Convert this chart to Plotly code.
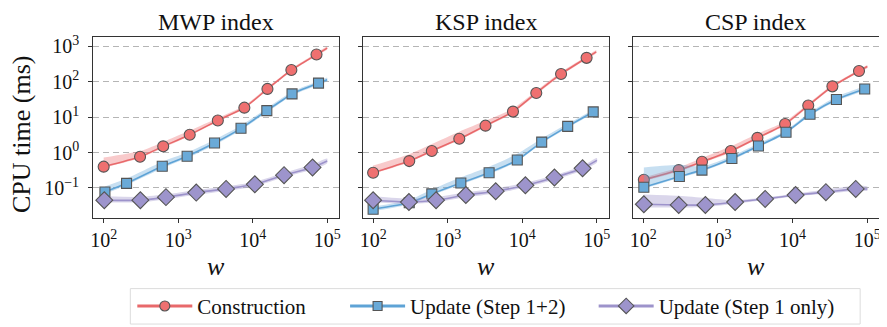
import plotly.graph_objects as go

# ---------------- data ----------------
panels = ["MWP index", "KSP index", "CSP index"]
series_names = ["Construction", "Update (Step 1+2)", "Update (Step 1 only)"]

# MWP index
mwp_con_w = [100, 308, 630, 1430, 3410, 7740, 15800, 33100, 72000, 100000]
mwp_con_t = [0.40, 0.76, 1.5, 3.2, 8.1, 18.6, 63, 215, 590, 900]
mwp_con_hi = [0.72, 1.1, 2.0, 4.2, 9.5, 21, 70, 235, 650, 1000]
mwp_con_lo = [0.37, 0.7, 1.38, 2.95, 7.5, 17.3, 58, 200, 550, 820]

mwp_upd_w = [104, 203, 612, 1320, 3080, 6980, 15500, 33800, 76600, 100000]
mwp_upd_t = [0.077, 0.135, 0.41, 0.79, 1.86, 4.85, 15.3, 45.5, 92, 115]
mwp_upd_hi = [0.11, 0.185, 0.55, 1.0, 2.3, 5.8, 18, 52, 105, 130]
mwp_upd_lo = [0.068, 0.12, 0.36, 0.7, 1.65, 4.3, 13.5, 41, 83, 104]

mwp_s1_w = [102, 311, 686, 1750, 4400, 10700, 26400, 63700, 100000]
mwp_s1_t = [0.045, 0.045, 0.055, 0.074, 0.094, 0.127, 0.23, 0.38, 0.58]
mwp_s1_hi = [0.058, 0.056, 0.066, 0.088, 0.11, 0.15, 0.27, 0.46, 0.68]
mwp_s1_lo = [0.039, 0.039, 0.048, 0.064, 0.082, 0.11, 0.2, 0.33, 0.5]

# KSP index
ksp_con_w = [100, 305, 612, 1430, 3210, 7500, 15400, 33100, 72800, 98000]
ksp_con_t = [0.27, 0.575, 1.11, 2.45, 5.77, 14.4, 48.5, 167, 476, 700]
ksp_con_hi = [0.43, 0.9, 1.75, 3.9, 7.9, 17.5, 56, 190, 530, 780]
ksp_con_lo = [0.25, 0.53, 1.02, 2.25, 5.3, 13.2, 44, 152, 435, 640]

ksp_upd_w = [100, 305, 612, 1500, 3590, 8570, 18200, 40600, 89300, 100000]
ksp_upd_t = [0.025, 0.038, 0.068, 0.138, 0.27, 0.615, 1.98, 5.5, 14.1, 16]
ksp_upd_hi = [0.03, 0.046, 0.09, 0.2, 0.4, 0.92, 2.5, 6.5, 16, 18]
ksp_upd_lo = [0.022, 0.034, 0.062, 0.125, 0.245, 0.56, 1.8, 5.0, 12.8, 14.5]

ksp_s1_w = [100, 302, 698, 1750, 4400, 11000, 27000, 64300, 100000]
ksp_s1_t = [0.045, 0.040, 0.045, 0.063, 0.081, 0.119, 0.198, 0.36, 0.6]
ksp_s1_hi = [0.058, 0.05, 0.055, 0.075, 0.097, 0.14, 0.23, 0.42, 0.7]
ksp_s1_lo = [0.04, 0.035, 0.04, 0.055, 0.07, 0.103, 0.17, 0.31, 0.52]

# CSP index
csp_con_w = [102, 299, 612, 1490, 3380, 7930, 16200, 34100, 77400, 100000]
csp_con_t = [0.17, 0.32, 0.55, 1.11, 2.61, 6.4, 21.5, 74.5, 202, 270]
csp_con_hi = [0.2, 0.38, 0.7, 1.5, 3.4, 7.6, 24, 82, 220, 295]
csp_con_lo = [0.155, 0.29, 0.5, 1.0, 2.4, 5.8, 19.5, 68, 185, 245]

csp_upd_w = [102, 305, 612, 1540, 3490, 8170, 17100, 38600, 92300, 100000]
csp_upd_t = [0.105, 0.21, 0.32, 0.68, 1.53, 3.76, 12.1, 31.6, 62.7, 66]
csp_upd_hi = [0.38, 0.45, 0.4, 0.8, 1.8, 4.3, 14, 38, 75, 78]
csp_upd_lo = [0.095, 0.19, 0.29, 0.62, 1.4, 3.4, 11, 28.5, 56, 59]

csp_s1_w = [102, 299, 680, 1700, 4290, 10960, 27900, 70000, 100000]
csp_s1_t = [0.0346, 0.033, 0.033, 0.040, 0.049, 0.063, 0.076, 0.094, 0.093]
csp_s1_hi = [0.065, 0.06, 0.052, 0.045, 0.054, 0.069, 0.09, 0.115, 0.11]
csp_s1_lo = [0.028, 0.028, 0.029, 0.036, 0.045, 0.058, 0.068, 0.084, 0.084]

x_tickvals = [100, 1000, 10000, 100000]
x_ticktext = ["10<sup>2</sup>", "10<sup>3</sup>", "10<sup>4</sup>", "10<sup>5</sup>"]
y_tickvals = [0.1, 1, 10, 100, 1000]
y_ticktext = ["10<sup>−1</sup>", "10<sup>0</sup>", "10<sup>1</sup>", "10<sup>2</sup>", "10<sup>3</sup>"]

data = [
    [(mwp_con_w, mwp_con_t, mwp_con_lo, mwp_con_hi),
     (mwp_upd_w, mwp_upd_t, mwp_upd_lo, mwp_upd_hi),
     (mwp_s1_w, mwp_s1_t, mwp_s1_lo, mwp_s1_hi)],
    [(ksp_con_w, ksp_con_t, ksp_con_lo, ksp_con_hi),
     (ksp_upd_w, ksp_upd_t, ksp_upd_lo, ksp_upd_hi),
     (ksp_s1_w, ksp_s1_t, ksp_s1_lo, ksp_s1_hi)],
    [(csp_con_w, csp_con_t, csp_con_lo, csp_con_hi),
     (csp_upd_w, csp_upd_t, csp_upd_lo, csp_upd_hi),
     (csp_s1_w, csp_s1_t, csp_s1_lo, csp_s1_hi)],
]

# ---------------- style ----------------
FONT = "Liberation Serif"
line_cols = ["#e8696b", "#5ea3d6", "#9d93cb"]
band_cols = ["rgba(236,104,106,0.35)", "rgba(94,163,214,0.35)", "rgba(157,147,203,0.38)"]
fill_cols = ["#ef7070", "#6aaad8", "#9d94cc"]
symbols = ["circle", "square", "diamond"]
sizes = [11, 10, 13]

OFF = 8  # page body margin
W, H = 887 - OFF, 327 - OFF


def px(x):
    return (x - OFF) / W


def py(y):
    return 1 - (y - OFF) / H


x_dom_px = [(90.7, 337.7), (361.7, 609.0), (633.3, 881.0)]
y_top_px, y_bot_px = 33.3, 217.3

fig = go.Figure()

for p in range(3):
    xa = "x" if p == 0 else f"x{p+1}"
    ya = "y" if p == 0 else f"y{p+1}"
    for s in range(3):
        w, t, lo, hi = data[p][s]
        fig.add_trace(go.Scatter(
            x=list(w) + list(w)[::-1], y=list(hi) + list(lo)[::-1],
            fill="toself", fillcolor=band_cols[s], line=dict(width=0, shape="spline", smoothing=0.6),
            mode="lines", hoverinfo="skip", showlegend=False, xaxis=xa, yaxis=ya))
        fig.add_trace(go.Scatter(
            x=w, y=t, mode="lines", line=dict(color=line_cols[s], width=1.6, shape="spline", smoothing=0.6),
            showlegend=False, xaxis=xa, yaxis=ya))
        fig.add_trace(go.Scatter(
            x=w[:-1], y=t[:-1], mode="markers",
            marker=dict(symbol=symbols[s], size=sizes[s], color=fill_cols[s],
                        line=dict(color="#555555", width=1.1)),
            showlegend=False, xaxis=xa, yaxis=ya))

# legend entries (one legend per entry, placed like the reference)
legend_keys = ["legend", "legend2", "legend3"]
legend_x_px = [130, 344, 594]
for s in range(3):
    fig.add_trace(go.Scatter(
        x=[None], y=[None], mode="lines+markers", name=series_names[s],
        line=dict(color=line_cols[s], width=3),
        marker=dict(symbol=symbols[s], size=sizes[s] - 1, color=fill_cols[s],
                    line=dict(color="#555555", width=1.1)),
        showlegend=True, legend=legend_keys[s]))

axis_common = dict(showline=True, mirror=True, linecolor="#333333", linewidth=1.2,
                   ticks="outside", ticklen=4, tickcolor="#333333", tickwidth=1,
                   zeroline=False)

layout = dict(
    width=W, height=H, margin=dict(l=0, r=0, t=0, b=0),
    paper_bgcolor="white", plot_bgcolor="white",
    annotations=[], shapes=[],
)
for s in range(3):
    layout[legend_keys[s]] = dict(orientation="h", x=px(legend_x_px[s]), xanchor="left",
                                  y=py(307), yanchor="middle", borderwidth=0,
                                  bgcolor="rgba(0,0,0,0)",
                                  font=dict(size=21, family=FONT, color="#111111"),
                                  itemwidth=55)

# legend frame
lx0, lx1, ly0, ly1 = px(128), px(862), py(289), py(325)
layout["shapes"].append(dict(type="rect", xref="paper", yref="paper", x0=lx0, x1=lx1, y0=ly1, y1=ly0,
                             line=dict(color="#dcdcdc", width=1), fillcolor="rgba(0,0,0,0)", layer="below"))

for p in range(3):
    xk = "xaxis" if p == 0 else f"xaxis{p+1}"
    yk = "yaxis" if p == 0 else f"yaxis{p+1}"
    xa = "x" if p == 0 else f"x{p+1}"
    ya = "y" if p == 0 else f"y{p+1}"
    x0, x1 = x_dom_px[p]
    layout[xk] = dict(axis_common, type="log", domain=[px(x0), px(x1)], range=[1.86, 5.157],
                      anchor=ya, tickmode="array", tickvals=x_tickvals, ticktext=x_ticktext,
                      showgrid=False, tickfont=dict(size=20, family=FONT, color="#111111"))
    layout[yk] = dict(axis_common, type="log", domain=[py(y_bot_px), py(y_top_px)],
                      range=[-1.85, 3.27], anchor=xa, tickmode="array", tickvals=y_tickvals,
                      ticktext=y_ticktext if p == 0 else [""] * 5, ticklabelstandoff=5,
                      showgrid=True, gridcolor="#b5b5b5", gridwidth=1, griddash="6px,4px",
                      tickfont=dict(size=20, family=FONT, color="#111111"))
    cx = px((x0 + x1) / 2)
    layout["annotations"].append(dict(text=panels[p], x=cx, y=py(18), xref="paper", yref="paper",
                                      showarrow=False, font=dict(size=24, family=FONT, color="#111111"),
                                      xanchor="center", yanchor="middle"))
    layout["annotations"].append(dict(text="<i>w</i>", x=cx, y=py(267), xref="paper", yref="paper",
                                      showarrow=False, font=dict(size=26, family=FONT, color="#111111"),
                                      xanchor="center", yanchor="middle"))

layout["annotations"].append(dict(text="CPU time (ms)", x=px(18), y=py(132), xref="paper", yref="paper",
                                  showarrow=False, textangle=-90,
                                  font=dict(size=26, family=FONT, color="#111111"),
                                  xanchor="center", yanchor="middle"))

fig.update_layout(**layout)
fig.write_html("out.html")
